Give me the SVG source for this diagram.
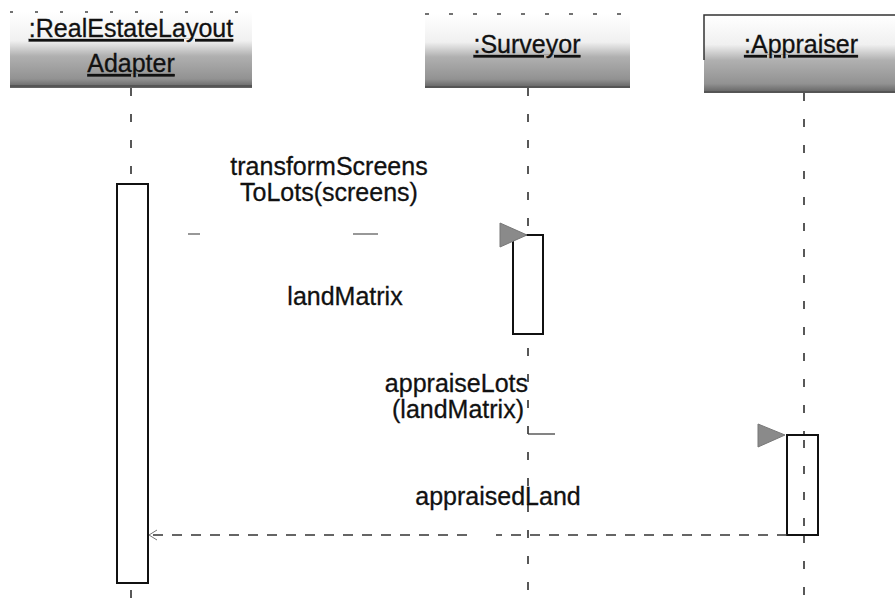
<svg xmlns="http://www.w3.org/2000/svg" width="895" height="602" viewBox="0 0 895 602">
<defs>
<linearGradient id="hdr" x1="0" y1="0" x2="0" y2="1">
<stop offset="0" stop-color="#ffffff"/>
<stop offset="0.38" stop-color="#f0f0f0"/>
<stop offset="0.58" stop-color="#b0b0b0"/>
<stop offset="0.88" stop-color="#929292"/>
<stop offset="1" stop-color="#606060"/>
</linearGradient>
<style>
text{font-family:"Liberation Sans",Arial,sans-serif;font-size:25px;fill:#111;stroke:#111;stroke-width:0.3}
.hd{text-decoration:underline}
.life{stroke:#222;stroke-width:1.5;stroke-dasharray:8 18;fill:none}
.act{fill:#fff;stroke:#111;stroke-width:2}
.msg{stroke:#333;stroke-width:1.2;fill:none}
.ret{stroke:#333;stroke-width:1.3;fill:none;stroke-dasharray:10 9}
.head{fill:#8a8a8a;stroke:#777;stroke-width:1}
.box{fill:url(#hdr)}
</style>
</defs>
<rect width="895" height="602" fill="#fff"/>

<g id="adapter">
<rect class="box" x="10" y="12" width="242" height="76"/>
<path d="M10 12 H252" stroke="#444" stroke-width="1.5" stroke-dasharray="3 22" fill="none"/>
<path d="M10 86 H252" stroke="#555" stroke-width="2"/>
<text class="hd" x="131" y="37" text-anchor="middle">:RealEstateLayout</text>
<text class="hd" x="131" y="72" text-anchor="middle">Adapter</text>
<line class="life" x1="131" y1="88" x2="131" y2="184"/>
<line class="life" x1="131" y1="590" x2="131" y2="602"/>
<rect class="act" x="117" y="184" width="31" height="399"/>
</g>

<g id="surveyor">
<rect class="box" x="425" y="14" width="205" height="74"/>
<path d="M425 14 H630" stroke="#444" stroke-width="1.5" stroke-dasharray="4 20" fill="none"/>
<path d="M425 87 H630" stroke="#555" stroke-width="2"/>
<text class="hd" x="527" y="53" text-anchor="middle">:Surveyor</text>
<line class="life" x1="528" y1="88" x2="528" y2="602"/>
<rect class="act" x="513" y="235" width="30" height="99"/>
</g>

<g id="appraiser">
<rect class="box" x="704" y="15" width="191" height="78"/>
<path d="M704 60 V15 H895" stroke="#333" stroke-width="1.5" fill="none"/>
<path d="M704 92 H895" stroke="#555" stroke-width="2"/>
<text class="hd" x="801" y="53" text-anchor="middle">:Appraiser</text>
<line class="life" x1="804" y1="93" x2="804" y2="602"/>
<rect class="act" x="787" y="435" width="31" height="100"/>
<line class="life" x1="804" y1="440" x2="804" y2="530"/>
</g>

<g id="connectors">
<path class="msg" d="M148 234 H500" stroke-dasharray="0 40 12 153 25 400"/>
<polygon class="head" points="500,223 527,235 500,247"/>
<path class="msg" d="M528 434 H758" stroke-dasharray="27 400"/>
<polygon class="head" points="758,424 785,435 758,447"/>
<path class="ret" d="M787 535 H496 M467 535 H150"/>
<path d="M157 530 L149 535 L157 540" stroke="#777" stroke-width="1" fill="none"/>
</g>

<g id="labels">
<text x="329" y="175" text-anchor="middle">transformScreens</text>
<text x="329" y="201" text-anchor="middle">ToLots(screens)</text>
<text x="345" y="305" text-anchor="middle">landMatrix</text>
<text x="528" y="392" text-anchor="end">appraiseLots</text>
<text x="524" y="418" text-anchor="end">(landMatrix)</text>
<text x="498" y="505" text-anchor="middle">appraisedLand</text>
</g>
</svg>
